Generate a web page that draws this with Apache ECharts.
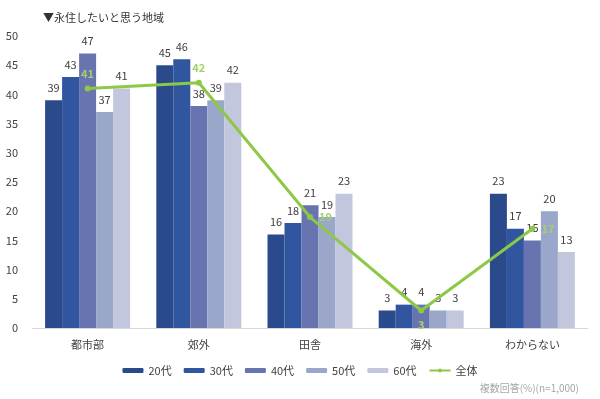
<!DOCTYPE html>
<html>
<head>
<meta charset="utf-8">
<script src="https://cdn.jsdelivr.net/npm/echarts@6/dist/echarts.min.js"></script>
<style>
	html, body { margin: 0; padding: 0; background: #fff; }
	#chart { width: 600px; height: 399px; }
</style>
</head>
<body>
<div id="chart"></div>
<script>
var categories = ['都市部', '郊外', '田舎', '海外', 'わからない'];
var age20 = [39, 45, 16, 3, 23];
var age30 = [43, 46, 18, 4, 17];
var age40 = [47, 38, 21, 4, 15];
var age50 = [37, 39, 19, 3, 20];
var age60 = [41, 42, 23, 3, 13];
var total = [41, 42, 19, 3, 17];
var seriesNames = ['20代', '30代', '40代', '50代', '60代'];
var barColors = ['#2b4a8b', '#30569f', '#6874b0', '#9ba6cb', '#c2c7dd'];
// where the green labels sit around each point
var totalLabelPos = ['top', 'top', 'right', 'bottom', 'right'];

var font = '"Noto Sans CJK JP", "Noto Sans", sans-serif';

var bars = [age20, age30, age40, age50, age60].map(function(d, i) {
	return {
		name: seriesNames[i],
		type: 'bar',
		data: d,
		barWidth: 17,
		barGap: '0%',
		itemStyle: { color: barColors[i] },
		label: {
			show: true,
			position: 'top',
			distance: 7,
			color: '#404040',
			fontSize: 11,
			fontFamily: font
		}
	};
});

var totalData = total.map(function(v, i) {
	return { value: v, label: { position: totalLabelPos[i] } };
});

var chart = echarts.init(document.getElementById('chart'));
chart.setOption({
	textStyle: { fontFamily: font },
	title: [{
		text: '▼永住したいと思う地域',
		left: 38,
		top: 7,
		textStyle: { fontSize: 11, fontWeight: 'normal', color: '#333' }
	}, {
		text: '複数回答(%)(n=1,000)',
		right: 16,
		top: 378,
		textStyle: { fontSize: 10, fontWeight: 'normal', color: '#a6a6a6' }
	}],
	grid: { left: 32, right: 12, top: 36, bottom: 71 },
	legend: {
		top: 360,
		left: 'center',
		itemWidth: 21,
		itemHeight: 5,
		itemGap: 12,
		textStyle: { fontSize: 11, color: '#404040' },
		data: ['20代', '30代', '40代', '50代', '60代', '全体']
	},
	xAxis: {
		type: 'category',
		data: categories,
		axisTick: { show: false },
		axisLine: { lineStyle: { color: '#d9d9d9' } },
		axisLabel: { color: '#404040', fontSize: 11, margin: 11 }
	},
	yAxis: {
		type: 'value',
		min: 0,
		max: 50,
		interval: 5,
		splitLine: { show: false },
		axisLine: { show: false },
		axisLabel: { color: '#404040', fontSize: 11, margin: 14 }
	},
	series: bars.concat([{
		name: '全体',
		type: 'line',
		data: totalData,
		symbol: 'circle',
		symbolSize: 6,
		lineStyle: { color: '#8dc847', width: 3 },
		itemStyle: { color: '#8dc847' },
		label: {
			show: true,
			position: 'top',
			distance: 6,
			color: '#a3d16b',
			fontSize: 11,
			fontWeight: 'bold'
		},
		z: 5
	}])
});
</script>
</body>
</html>
